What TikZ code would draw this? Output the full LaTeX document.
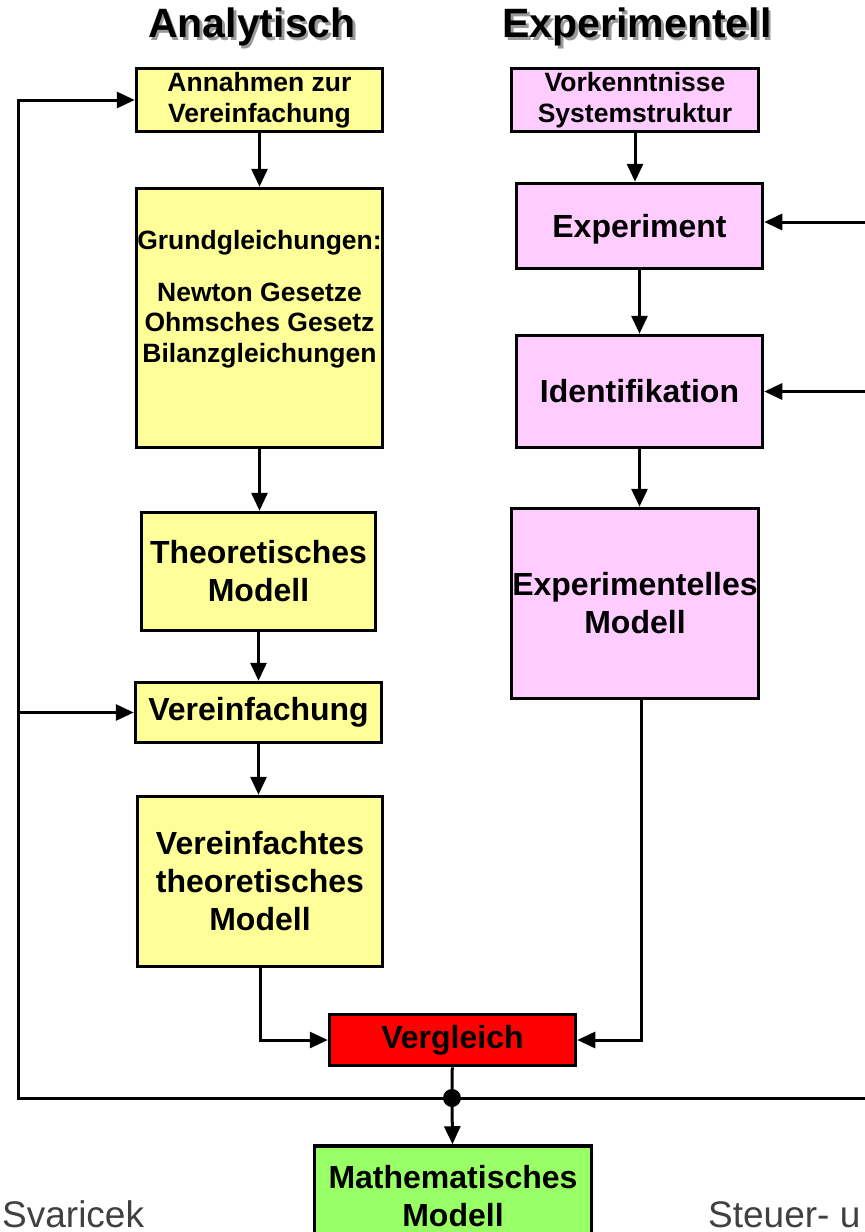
\documentclass[tikz,border=0pt]{standalone}
\usepackage{fontspec}
\setmainfont{Liberation Sans}
\usetikzlibrary{arrows.meta}

\definecolor{gelb}{HTML}{FFFF99}
\definecolor{rosa}{HTML}{FFCCFF}
\definecolor{gruen}{HTML}{99FF66}

\begin{document}
\begin{tikzpicture}[x=1pt, y=-1pt,
  box/.style={draw, line width=3.5pt, inner sep=0pt, align=center,
    font=\fontsize{32}{38}\selectfont\bfseries},
  ybox/.style={box, fill=gelb},
  pbox/.style={box, fill=rosa},
  small/.style={font=\fontsize{26.5}{30.5}\selectfont\bfseries},
  line/.style={line width=3pt},
  arr/.style={line, -{Triangle[length=18pt,width=16pt]}},
  titel/.style={font=\fontsize{41}{41}\selectfont\bfseries},
  fuss/.style={anchor=base west, inner sep=0pt, text=black!75, font=\fontsize{37}{37}\selectfont}]
\clip (0,0) rectangle (865,1232);
\fill[white] (0,0) rectangle (865,1232);

% Ueberschriften mit Schatten
\node[titel, text=black!40] at (254.5,29.5) {Analytisch};
\node[titel] (ana) at (252,27) {Analytisch};
\node[titel, text=black!40] at (639.5,29.5) {Experimentell};
\node[titel] (exp) at (637,27) {Experimentell};

% analytischer Zweig
\node[ybox, small, minimum width=246, minimum height=63] (ann) at (259.5,100)
  {Annahmen zur\\Vereinfachung};
\node[ybox, minimum width=246, minimum height=259] (grund) at (259.5,318) {};
\node[small, align=center] (grundtext) at (259.5,299)
  {Grundgleichungen:\\[21pt]Newton Gesetze\\Ohmsches Gesetz\\Bilanzgleichungen};
\node[ybox, minimum width=234, minimum height=118] (theo) at (258.5,571.5)
  {Theoretisches\\Modell};
\node[ybox, minimum width=246, minimum height=60] (vereinf) at (258.5,712.5)
  {Vereinfachung};
\node[ybox, minimum width=245, minimum height=170] (vtheo) at (260,881.5)
  {Vereinfachtes\\theoretisches\\Modell};

% experimenteller Zweig
\node[pbox, small, minimum width=247, minimum height=63] (vork) at (635,100)
  {Vorkenntnisse\\Systemstruktur};
\node[pbox, text depth=0pt, minimum width=246, minimum height=85] (exper) at (639.5,226)
  {Experiment};
\node[pbox, minimum width=246, minimum height=112] (ident) at (639.5,391.5)
  {Identifikation};
\node[pbox, minimum width=247, minimum height=190] (expmod) at (635,603.5)
  {Experimentelles\\Modell};

% Vergleich und Ergebnis
\node[box, fill=red, minimum width=246, minimum height=51] (vergl) at (452.5,1040)
  {Vergleich};
\node[box, fill=gruen, minimum width=277, minimum height=100] (mathe) at (453,1196)
  {Mathematisches\\Modell};

\coordinate (junc) at (452,1098);
\coordinate (lcorner) at (18,1098);
\coordinate (rend) at (866,1098);

\draw[arr] (ann) -- (ann.south |- grund.north);
\draw[arr] (grund.south) -- (grund.south |- theo.north);
\draw[arr] (theo) -- (theo.south |- vereinf.north);
\draw[arr] (vereinf) -- (vereinf.south |- vtheo.north);
\draw[arr] (vtheo.south) |- (vergl.west);

\draw[arr] (vork) -- (vork.south |- exper.north);
\draw[arr] (exper) -- (ident);
\draw[arr] (ident) -- (ident.south |- expmod.north);
\draw[arr] ([xshift=6]expmod.south) |- (vergl.east);

% Rueckfuehrungen
\draw[line] (vergl) -- (junc);
\fill (junc) circle[radius=9];
\draw[arr] (junc) -- (mathe);
\draw[arr] (rend) -- (lcorner) |- (ann.west);
\draw[arr] (lcorner |- vereinf) -- (vereinf.west);
\draw[arr] ([yshift=4]exper.east -| rend) -- ([yshift=4]exper.east);
\draw[arr] (ident.east -| rend) -- (ident.east);

% Fusszeile
\node[fuss] (autor) at (2,1227) {Svaricek};
\node[fuss] (fach) at (708,1227) {Steuer- u};
\end{tikzpicture}
\end{document}
